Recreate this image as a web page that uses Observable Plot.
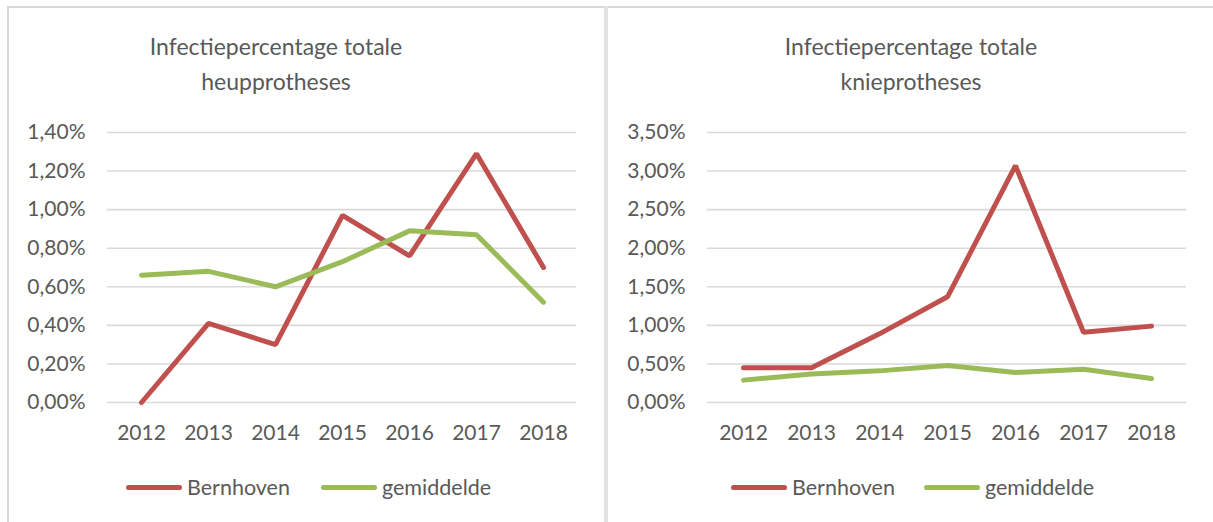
<!DOCTYPE html>
<html>
<head>
<meta charset="utf-8">
<script src="https://cdn.jsdelivr.net/npm/d3@7"></script>
<script src="https://cdn.jsdelivr.net/npm/@observablehq/plot@0.6"></script>
<style>
  html, body { margin: 0; padding: 0; background: #ffffff; }
  body { width: 1213px; height: 522px; position: relative; overflow: hidden; font-family: Lato, "Open Sans", sans-serif; color: #595959; }
  .panel { position: absolute; top: 6px; height: 530px; box-sizing: border-box; border-top: 2px solid #d9d9d9; }
  #pL { left: 7px; width: 599px; border-left: 2px solid #d9d9d9; border-right: 2px solid #e3e3e3; }
  #pR { left: 606px; width: 620px; border-left: 2px solid #e3e3e3; }
  .title { position: absolute; top: 29px; width: 400px; text-align: center; font-size: 23px; line-height: 35px; color: #595959; }
  .plot { position: absolute; top: 100px; }
  .legend { position: absolute; top: 474px; font-size: 21.5px; color: #595959; white-space: nowrap; }
  .legend .item { position: absolute; top: 0; display: flex; align-items: center; height: 26px; }
  .legend .sw { display: inline-block; width: 56px; height: 5px; border-radius: 3px; margin-right: 5px; }
</style>
</head>
<body>
<div class="panel" id="pL"></div>
<div class="panel" id="pR"></div>
<div class="title" style="left:76px">Infectiepercentage totale<br>heupprotheses</div>
<div class="title" style="left:711px">Infectiepercentage totale<br>knieprotheses</div>
<div class="plot" id="plotL" style="left:0px"></div>
<div class="plot" id="plotR" style="left:605px"></div>
<div class="legend" id="legL"></div>
<div class="legend" id="legR"></div>
<script>
const years = ["2012", "2013", "2014", "2015", "2016", "2017", "2018"];
const seriesNames = ["Bernhoven", "gemiddelde"];
const seriesColors = ["#c0504d", "#9bbb59"];

// Heupprotheses (percent)
const heupBernhoven = [0.00, 0.41, 0.30, 0.97, 0.76, 1.29, 0.70];
const heupGemiddelde = [0.66, 0.68, 0.60, 0.73, 0.89, 0.87, 0.52];
const heupTicks = [0, 0.2, 0.4, 0.6, 0.8, 1.0, 1.2, 1.4];

// Knieprotheses (percent)
const knieBernhoven = [0.45, 0.45, 0.89, 1.37, 3.07, 0.91, 0.99];
const knieGemiddelde = [0.29, 0.37, 0.41, 0.48, 0.39, 0.43, 0.31];
const knieTicks = [0, 0.5, 1.0, 1.5, 2.0, 2.5, 3.0, 3.5];

const fmt = d => d.toFixed(2).replace(".", ",") + "%";

function rows(a, b) {
  const out = [];
  years.forEach((y, i) => out.push({year: y, value: a[i], series: seriesNames[0]}));
  years.forEach((y, i) => out.push({year: y, value: b[i], series: seriesNames[1]}));
  return out;
}

function makePlot(data, ticks, width, mLeft, mRight) {
  return Plot.plot({
    width: width,
    height: 360,
    marginTop: 32,
    marginBottom: 58,
    marginLeft: mLeft,
    marginRight: mRight,
    style: {fontFamily: "Lato, 'Open Sans', sans-serif", fontSize: "21px", color: "#595959", background: "transparent", overflow: "visible"},
    x: {type: "point", domain: years, padding: 0.5, label: null},
    y: {domain: [ticks[0], ticks[ticks.length - 1]], label: null},
    color: {domain: seriesNames, range: seriesColors},
    marks: [
      Plot.gridY(ticks, {stroke: "#d9d9d9", strokeOpacity: 1, strokeWidth: 1.6}),
      Plot.axisY(ticks, {tickSize: 0, tickPadding: 22, tickFormat: fmt, label: null, fill: "#595959"}),
      Plot.axisX({tickSize: 0, tickPadding: 23, label: null, fill: "#595959"}),
      Plot.line(data, {x: "year", y: "value", z: "series", stroke: "series", strokeWidth: 5, strokeLinecap: "round", strokeLinejoin: "miter"})
    ]
  });
}

document.getElementById("plotL").appendChild(makePlot(rows(heupBernhoven, heupGemiddelde), heupTicks, 605, 107, 29));
document.getElementById("plotR").appendChild(makePlot(rows(knieBernhoven, knieGemiddelde), knieTicks, 608, 102, 27));

function makeLegend(id, positions) {
  const el = document.getElementById(id);
  seriesNames.forEach((name, i) => {
    const item = document.createElement("div");
    item.className = "item";
    item.style.left = positions[i] + "px";
    const sw = document.createElement("span");
    sw.className = "sw";
    sw.style.background = seriesColors[i];
    item.appendChild(sw);
    item.appendChild(document.createTextNode(name));
    el.appendChild(item);
  });
}
makeLegend("legL", [126, 321]);
makeLegend("legR", [731, 924]);
</script>
</body>
</html>
